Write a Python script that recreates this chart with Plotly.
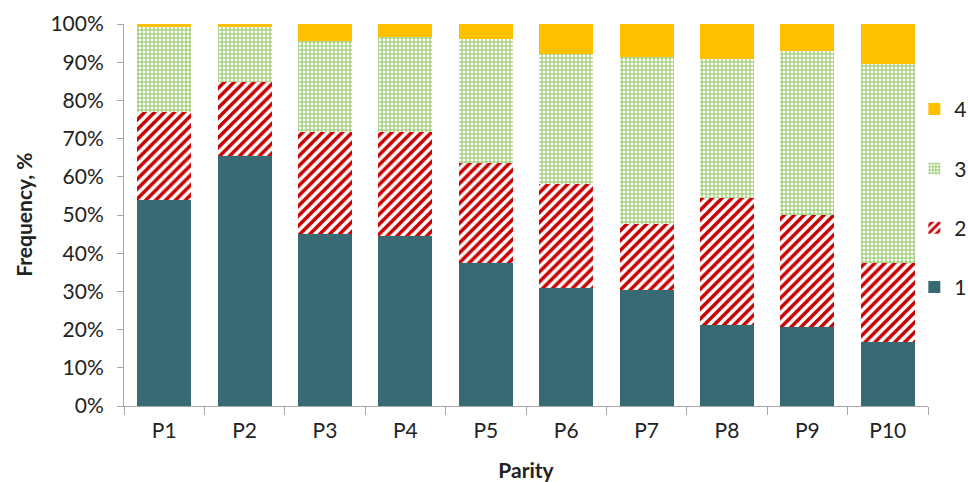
import plotly.graph_objects as go

# Parity categories and share of each class (%) per parity
parity = ["P1", "P2", "P3", "P4", "P5", "P6", "P7", "P8", "P9", "P10"]
class_1 = [53.9, 65.5, 45.0, 44.5, 37.5, 31.0, 30.4, 21.2, 20.8, 16.8]
class_2 = [23.1, 19.4, 26.6, 27.3, 26.0, 27.1, 17.2, 33.2, 29.2, 20.7]
class_3 = [22.3, 14.3, 23.9, 24.9, 32.6, 34.0, 43.7, 36.4, 42.9, 52.1]
class_4 = [0.7, 0.8, 4.5, 3.3, 3.9, 7.9, 8.7, 9.2, 7.1, 10.4]

y_ticks = [0, 10, 20, 30, 40, 50, 60, 70, 80, 90, 100]
y_tick_labels = [f"{v}%" for v in y_ticks]

FONT = "Lato, Open Sans, sans-serif"
TEXT = "#222222"
AXIS = "#A6A6A6"
SIZE = 21

fig = go.Figure()

fig.add_trace(go.Bar(
    name="1", x=parity, y=class_1, legendgroup="1", legendrank=4,
    marker=dict(color="#386A73", line=dict(width=0)),
))
fig.add_trace(go.Bar(
    name="2", x=parity, y=class_2, legendgroup="2", legendrank=3,
    marker=dict(
        color="white", line=dict(width=0),
        pattern=dict(shape="/", fgcolor="#C80000", fgopacity=1, bgcolor="white",
                     size=7, solidity=0.5, fillmode="overlay"),
    ),
))
fig.add_trace(go.Bar(
    name="3", x=parity, y=class_3, legendgroup="3", legendrank=2,
    marker=dict(
        color="white", line=dict(width=0),
        pattern=dict(shape="+", fgcolor="#8AC457", fgopacity=1, bgcolor="white",
                     size=4, solidity=0.45, fillmode="overlay"),
    ),
))
fig.add_trace(go.Bar(
    name="4", x=parity, y=class_4, legendgroup="4", legendrank=1,
    marker=dict(color="#FFC000", line=dict(width=0)),
))

fig.update_layout(
    barmode="stack",
    bargap=0.33,
    width=968, height=482,
    margin=dict(l=124, r=40, t=24, b=76, autoexpand=False),
    paper_bgcolor="white",
    plot_bgcolor="white",
    font=dict(family=FONT, size=SIZE, color=TEXT),
    legend=dict(
        x=0.983, y=0.83, xanchor="left", yanchor="top",
        traceorder="grouped", tracegroupgap=29,
        font=dict(family=FONT, size=SIZE, color=TEXT),
        itemwidth=30, bgcolor="rgba(0,0,0,0)",
    ),
    showlegend=True,
    annotations=[dict(
        text="<b>Frequency, %</b>", textangle=-90,
        xref="paper", yref="paper", x=-0.126, y=0.5,
        xanchor="center", yanchor="middle", showarrow=False,
        font=dict(family=FONT, size=SIZE, color=TEXT),
    )],
)

fig.update_xaxes(
    showline=True, linecolor=AXIS, linewidth=1,
    ticks="outside", tickson="boundaries", ticklen=8, tickcolor=AXIS,
    ticklabelstandoff=6,
    showgrid=False,
    tickfont=dict(family=FONT, size=SIZE, color=TEXT),
    title=dict(text="<b>Parity</b>", font=dict(family=FONT, size=SIZE, color=TEXT),
               standoff=22),
)
fig.update_yaxes(
    range=[0, 100],
    tickvals=y_ticks, ticktext=y_tick_labels,
    showline=True, linecolor=AXIS, linewidth=1,
    ticks="outside", ticklen=6, tickcolor=AXIS,
    ticklabelstandoff=9,
    showgrid=False, zeroline=False,
    tickfont=dict(family=FONT, size=SIZE, color=TEXT),
)

fig.write_html("out.html")
